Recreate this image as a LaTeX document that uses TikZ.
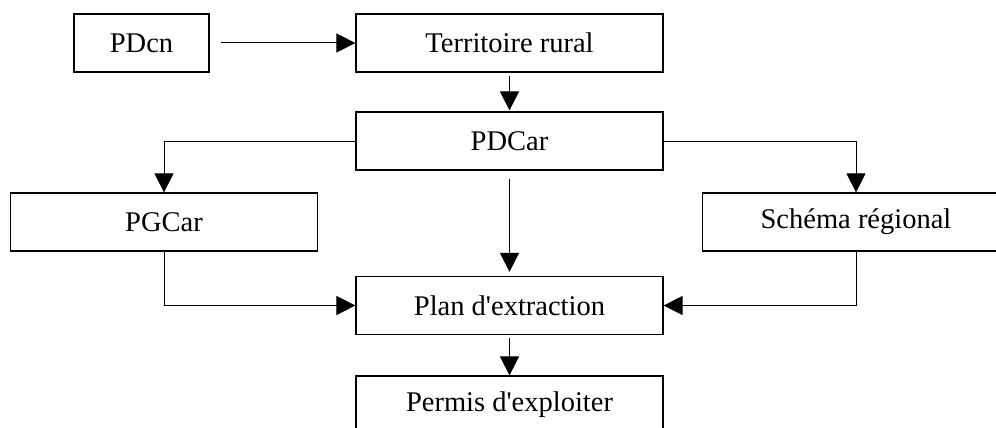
\documentclass[tikz,border=0pt]{standalone}
\usepackage{fontspec}
\setmainfont{Liberation Serif}[Ligatures=TeXOff]
\usetikzlibrary{arrows.meta}
\begin{document}
\begin{tikzpicture}[x=1pt,y=-1pt,
  box/.style={draw, rectangle, line width=1.2pt, inner sep=0pt,
    minimum height=58pt, font=\fontsize{28.5}{34}\selectfont},
  wide/.style={box, minimum width=307pt},
  conn/.style={line width=1pt, -{Triangle[length=19pt,width=19pt]}}]
\useasboundingbox (0,0) rectangle (996,428);
\clip (0,0) rectangle (996,428);
\node[box, minimum width=135pt] (pdcn) at (141.5,43) {PDcn};
\node[wide] (terr) at (509.5,43) {Territoire rural};
\node[wide] (pdcar) at (509.5,141) {PDCar};
\node[wide] (pgcar) at (164,222) {PGCar};
\node[wide] (schema) at (856,222) {Schéma régional};
\node[wide] (plan) at (509.5,305.5) {Plan d'extraction};
\node[wide] (permis) at (509.5,405) {Permis d'exploiter};
\draw[conn, shorten <=11pt] (pdcn.east) -- (terr.west);
\draw[conn, shorten <=3pt, shorten >=1pt] (terr.south) -- (pdcar.north);
\draw[conn] (pdcar.west) -| (pgcar.north);
\draw[conn] (pdcar.east) -| (schema.north);
\draw[conn, shorten <=8pt, shorten >=4pt] (pdcar.south) -- (plan.north);
\draw[conn] (pgcar.south) |- (plan.west);
\draw[conn] (schema.south) |- (plan.east);
\draw[conn, shorten <=3pt] (plan.south) -- (permis.north);
\end{tikzpicture}
\end{document}
